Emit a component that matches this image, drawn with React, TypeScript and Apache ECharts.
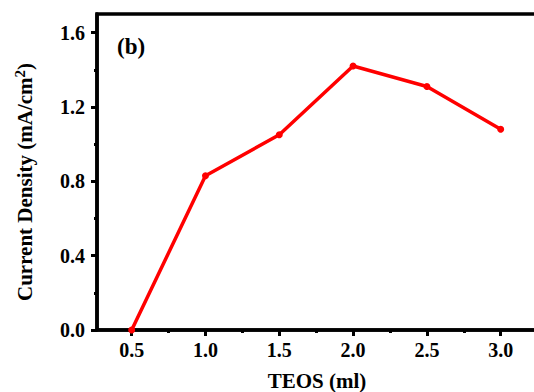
import React, { useEffect, useRef } from "react";
import * as echarts from "echarts";

const teos = [0.5, 1.0, 1.5, 2.0, 2.5, 3.0];
const currentDensity = [0.0, 0.83, 1.05, 1.42, 1.31, 1.08];
const xMajor = [0.5, 1.0, 1.5, 2.0, 2.5, 3.0];
const xMinor = [0.75, 1.25, 1.75, 2.25, 2.75];
const yMajor = [0, 0.4, 0.8, 1.2, 1.6];
const yMinor = [0.2, 0.6, 1.0, 1.4];

const FONT = "'Liberation Serif', 'Times New Roman', serif";
const X_MIN = 0.265;
const X_MAX = 3.246;

export default function App() {
  const ref = useRef<HTMLDivElement>(null);
  useEffect(() => {
    if (!ref.current) return;
    const chart = echarts.init(ref.current, null, { renderer: "svg" });
    const axisLine = { show: true, lineStyle: { color: "#000", width: 3.5 } };
    const labelStyle = {
      fontFamily: FONT,
      fontWeight: "bold" as const,
      fontSize: 20,
      color: "#000",
    };
    chart.setOption({
      animation: false,
      backgroundColor: "#fff",
      grid: {
        left: 97,
        top: 14,
        width: 440,
        height: 316,
        show: true,
        borderColor: "#000",
        borderWidth: 3.5,
        containLabel: false,
        outerBoundsMode: "none",
      },
      graphic: [
        {
          type: "text",
          left: 117,
          top: 35,
          style: {
            text: "(b)",
            fontFamily: FONT,
            fontWeight: "bold",
            fontSize: 23,
            fill: "#000",
          },
        },
        {
          type: "text",
          x: 25,
          y: 182,
          rotation: Math.PI / 2,
          style: {
            text: "{a|Current Density (mA/cm}{s|2}{a|)}",
            align: "center",
            verticalAlign: "middle",
            rich: {
              a: {
                fontFamily: FONT,
                fontWeight: "bold",
                fontSize: 21,
                fill: "#000",
                lineHeight: 26,
              },
              s: {
                fontFamily: FONT,
                fontWeight: "bold",
                fontSize: 15,
                fill: "#000",
                lineHeight: 26,
                padding: [0, 0, 10, 0],
              },
            },
          },
        },
      ],
      xAxis: [
        {
          type: "value",
          min: X_MIN,
          max: X_MAX,
          position: "bottom",
          axisLine,
          splitLine: { show: false },
          axisTick: {
            customValues: xMajor,
            length: 6,
            lineStyle: { color: "#000", width: 3 },
          },
          axisLabel: {
            customValues: xMajor,
            formatter: (v: number) => v.toFixed(1),
            margin: 10,
            ...labelStyle,
          },
          name: "TEOS (ml)",
          nameLocation: "middle",
          nameGap: 40,
          nameTextStyle: { ...labelStyle, fontSize: 21 },
        },
        {
          type: "value",
          min: X_MIN,
          max: X_MAX,
          position: "bottom",
          axisLine: { show: false },
          splitLine: { show: false },
          axisTick: {
            customValues: xMinor,
            length: 3,
            lineStyle: { color: "#000", width: 3 },
          },
          axisLabel: { show: false },
        },
      ],
      yAxis: [
        {
          type: "value",
          min: 0,
          max: 1.7,
          position: "left",
          axisLine,
          splitLine: { show: false },
          axisTick: {
            customValues: yMajor,
            length: 6,
            lineStyle: { color: "#000", width: 3 },
          },
          axisLabel: {
            customValues: yMajor,
            formatter: (v: number) => v.toFixed(1),
            margin: 12,
            ...labelStyle,
          },
        },
        {
          type: "value",
          min: 0,
          max: 1.7,
          position: "left",
          axisLine: { show: false },
          splitLine: { show: false },
          axisTick: {
            customValues: yMinor,
            length: 3,
            lineStyle: { color: "#000", width: 3 },
          },
          axisLabel: { show: false },
        },
      ],
      series: [
        {
          type: "line",
          xAxisIndex: 0,
          yAxisIndex: 0,
          data: teos.map((x, i) => [x, currentDensity[i]]),
          symbol: "circle",
          symbolSize: 7,
          lineStyle: { color: "#ff0000", width: 3.5 },
          itemStyle: { color: "#ff0000" },
          clip: false,
        },
      ],
    });
    return () => chart.dispose();
  }, []);
  return (
    <div
      ref={ref}
      style={{ position: "fixed", left: 0, top: 0, width: 534, height: 392 }}
    />
  );
}
